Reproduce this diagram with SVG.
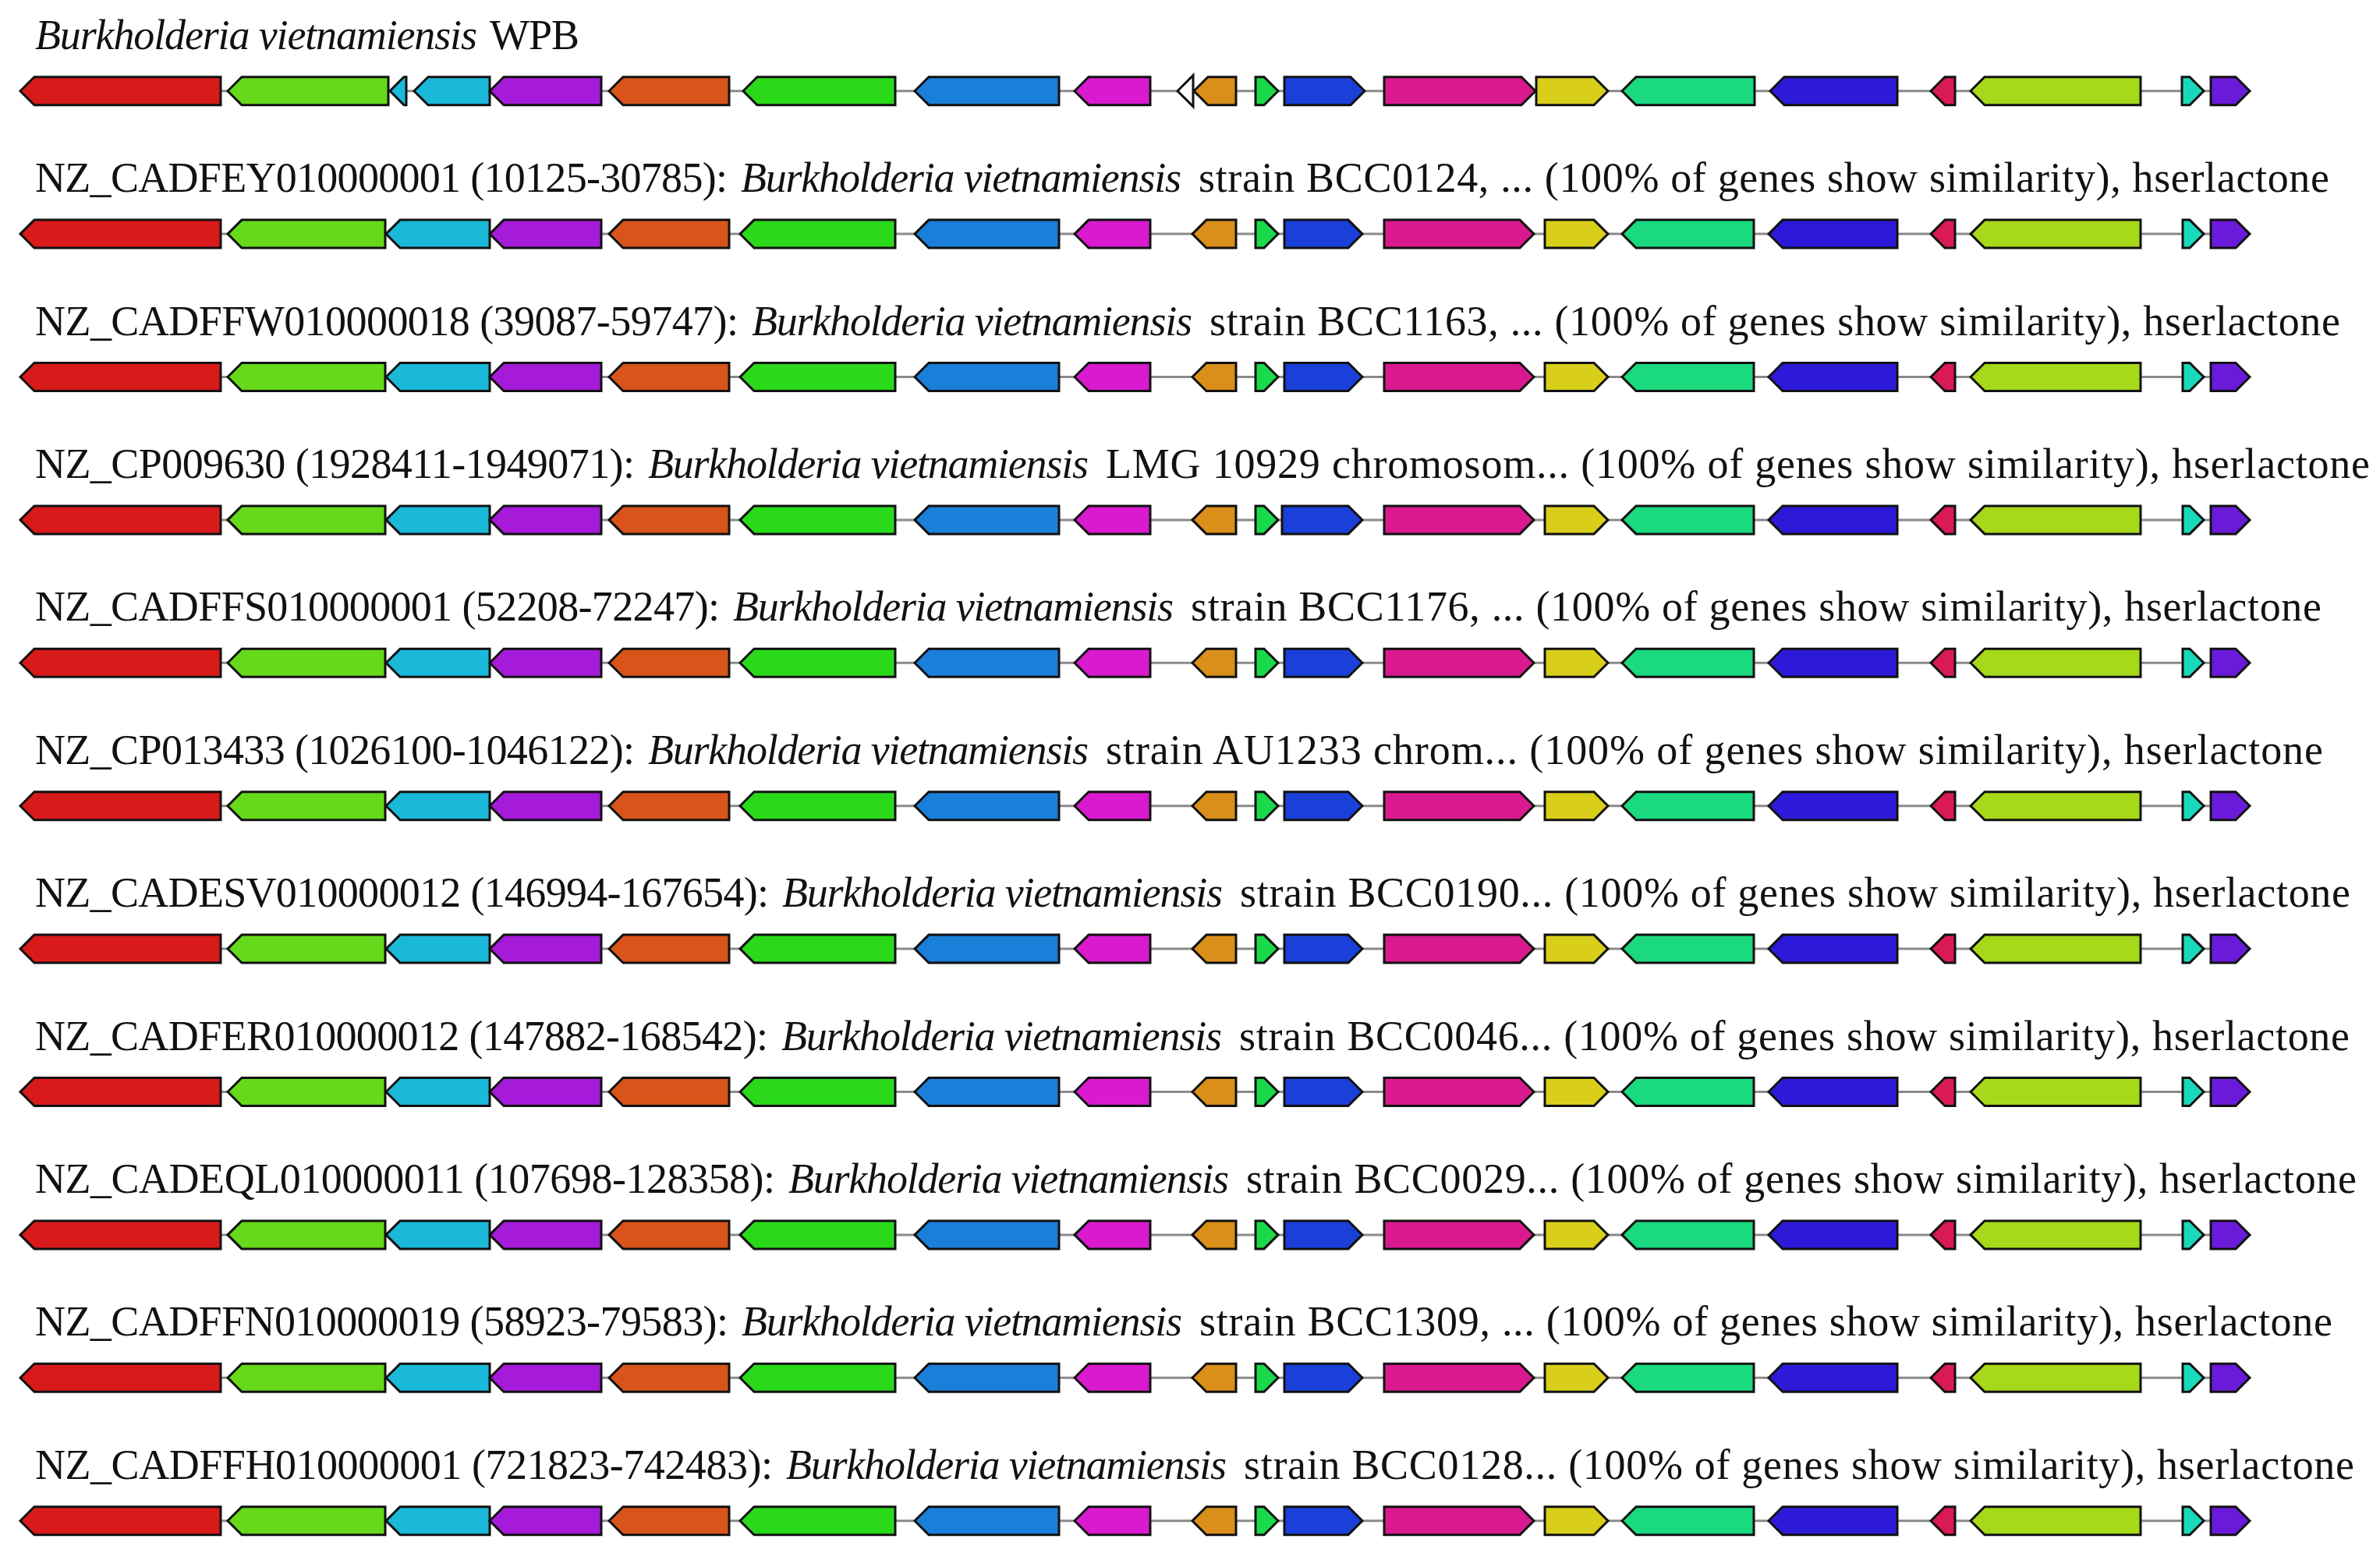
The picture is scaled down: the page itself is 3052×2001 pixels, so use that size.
<svg xmlns="http://www.w3.org/2000/svg" width="3052" height="2001" viewBox="0 0 3052 2001">
<style>
text{font-family:"Liberation Serif","Times New Roman",serif;font-size:54px;fill:#111}
.i{font-style:italic}
polygon{stroke:#111;stroke-width:3;stroke-linejoin:miter}
.bb{stroke:#8a8a8a;stroke-width:3}
.c1{fill:#d91a1a}.c2{fill:#66d91a}.c3{fill:#1ab8d9}.c4{fill:#a61ad9}.c5{fill:#d9541a}
.c6{fill:#2ad91a}.c7{fill:#1a7fd9}.c8{fill:#d91acf}.c9{fill:#ffffff}.c10{fill:#d98f1a}
.c11{fill:#1ad94a}.c12{fill:#1a40d9}.c13{fill:#d91a8f}.c14{fill:#d9cf1a}.c15{fill:#1ad97f}
.c16{fill:#2d1ad9}.c17{fill:#d91a54}.c18{fill:#a6d91a}.c19{fill:#1ad9bb}.c20{fill:#6a1ad9}
</style>
<rect width="3052" height="2001" fill="#fff"/>
<g id="connectors">
<line class="bb" x1="26" y1="116.7" x2="2885" y2="116.7"/>
<line class="bb" x1="26" y1="300.1" x2="2885" y2="300.1"/>
<line class="bb" x1="26" y1="483.5" x2="2885" y2="483.5"/>
<line class="bb" x1="26" y1="666.9" x2="2885" y2="666.9"/>
<line class="bb" x1="26" y1="850.3" x2="2885" y2="850.3"/>
<line class="bb" x1="26" y1="1033.7" x2="2885" y2="1033.7"/>
<line class="bb" x1="26" y1="1217.1" x2="2885" y2="1217.1"/>
<line class="bb" x1="26" y1="1400.5" x2="2885" y2="1400.5"/>
<line class="bb" x1="26" y1="1583.9" x2="2885" y2="1583.9"/>
<line class="bb" x1="26" y1="1767.3" x2="2885" y2="1767.3"/>
<line class="bb" x1="26" y1="1950.7" x2="2885" y2="1950.7"/>
</g>
<g id="row1" transform="translate(0,116.7)">
<text y="-54"><tspan x="45" class="i" textLength="567">Burkholderia vietnamiensis</tspan> <tspan x="628" textLength="115">WPB</tspan></text>
<polygon class="c1" points="26,0 44,-18 283,-18 283,18 44,18"/>
<polygon class="c2" points="292,0 310,-18 498,-18 498,18 310,18"/>
<polygon class="c3" points="500,0 518,-18 521,-18 521,18 518,18"/>
<polygon class="c3" points="531,0 549,-18 628,-18 628,18 549,18"/>
<polygon class="c4" points="628,0 646,-18 771,-18 771,18 646,18"/>
<polygon class="c5" points="781,0 799,-18 935,-18 935,18 799,18"/>
<polygon class="c6" points="953,0 971,-18 1148,-18 1148,18 971,18"/>
<polygon class="c7" points="1173,0 1191,-18 1358,-18 1358,18 1191,18"/>
<polygon class="c8" points="1378,0 1396,-18 1475,-18 1475,18 1396,18"/>
<polygon class="c9" points="1510,0 1530,-20 1530,20"/>
<polygon class="c10" points="1531,0 1549,-18 1585,-18 1585,18 1549,18"/>
<polygon class="c11" points="1610,-18 1621,-18 1639,0 1621,18 1610,18"/>
<polygon class="c12" points="1647,-18 1732,-18 1750,0 1732,18 1647,18"/>
<polygon class="c13" points="1775,-18 1951,-18 1969,0 1951,18 1775,18"/>
<polygon class="c14" points="1970,-18 2044,-18 2062,0 2044,18 1970,18"/>
<polygon class="c15" points="2080,0 2098,-18 2250,-18 2250,18 2098,18"/>
<polygon class="c16" points="2270,0 2288,-18 2433,-18 2433,18 2288,18"/>
<polygon class="c17" points="2476,0 2494,-18 2507,-18 2507,18 2494,18"/>
<polygon class="c18" points="2527,0 2545,-18 2745,-18 2745,18 2545,18"/>
<polygon class="c19" points="2798,-18 2808,-18 2826,0 2808,18 2798,18"/>
<polygon class="c20" points="2835,-18 2867,-18 2885,0 2867,18 2835,18"/>
</g>
<g id="row2" transform="translate(0,300.1)">
<text y="-54"><tspan x="45" textLength="888">NZ_CADFEY010000001 (10125-30785):</tspan> <tspan x="950" class="i" textLength="565">Burkholderia vietnamiensis</tspan> <tspan x="1537" textLength="1450">strain BCC0124, ... (100% of genes show similarity), hserlactone</tspan></text>
<polygon class="c1" points="26,0 44,-18 283,-18 283,18 44,18"/>
<polygon class="c2" points="292,0 310,-18 494,-18 494,18 310,18"/>
<polygon class="c3" points="495,0 513,-18 628,-18 628,18 513,18"/>
<polygon class="c4" points="628,0 646,-18 771,-18 771,18 646,18"/>
<polygon class="c5" points="781,0 799,-18 935,-18 935,18 799,18"/>
<polygon class="c6" points="949,0 967,-18 1148,-18 1148,18 967,18"/>
<polygon class="c7" points="1173,0 1191,-18 1358,-18 1358,18 1191,18"/>
<polygon class="c8" points="1378,0 1396,-18 1475,-18 1475,18 1396,18"/>
<polygon class="c10" points="1529,0 1547,-18 1585,-18 1585,18 1547,18"/>
<polygon class="c11" points="1610,-18 1621,-18 1639,0 1621,18 1610,18"/>
<polygon class="c12" points="1647,-18 1729,-18 1747,0 1729,18 1647,18"/>
<polygon class="c13" points="1775,-18 1949,-18 1967,0 1949,18 1775,18"/>
<polygon class="c14" points="1981,-18 2044,-18 2062,0 2044,18 1981,18"/>
<polygon class="c15" points="2080,0 2098,-18 2249,-18 2249,18 2098,18"/>
<polygon class="c16" points="2268,0 2286,-18 2433,-18 2433,18 2286,18"/>
<polygon class="c17" points="2476,0 2494,-18 2507,-18 2507,18 2494,18"/>
<polygon class="c18" points="2527,0 2545,-18 2745,-18 2745,18 2545,18"/>
<polygon class="c19" points="2799,-18 2808,-18 2826,0 2808,18 2799,18"/>
<polygon class="c20" points="2835,-18 2867,-18 2885,0 2867,18 2835,18"/>
</g>
<g id="row3" transform="translate(0,483.5)">
<text y="-54"><tspan x="45" textLength="902">NZ_CADFFW010000018 (39087-59747):</tspan> <tspan x="964" class="i" textLength="565">Burkholderia vietnamiensis</tspan> <tspan x="1551" textLength="1450">strain BCC1163, ... (100% of genes show similarity), hserlactone</tspan></text>
<polygon class="c1" points="26,0 44,-18 283,-18 283,18 44,18"/>
<polygon class="c2" points="292,0 310,-18 494,-18 494,18 310,18"/>
<polygon class="c3" points="495,0 513,-18 628,-18 628,18 513,18"/>
<polygon class="c4" points="628,0 646,-18 771,-18 771,18 646,18"/>
<polygon class="c5" points="781,0 799,-18 935,-18 935,18 799,18"/>
<polygon class="c6" points="949,0 967,-18 1148,-18 1148,18 967,18"/>
<polygon class="c7" points="1173,0 1191,-18 1358,-18 1358,18 1191,18"/>
<polygon class="c8" points="1378,0 1396,-18 1475,-18 1475,18 1396,18"/>
<polygon class="c10" points="1529,0 1547,-18 1585,-18 1585,18 1547,18"/>
<polygon class="c11" points="1610,-18 1621,-18 1639,0 1621,18 1610,18"/>
<polygon class="c12" points="1647,-18 1729,-18 1747,0 1729,18 1647,18"/>
<polygon class="c13" points="1775,-18 1949,-18 1967,0 1949,18 1775,18"/>
<polygon class="c14" points="1981,-18 2044,-18 2062,0 2044,18 1981,18"/>
<polygon class="c15" points="2080,0 2098,-18 2249,-18 2249,18 2098,18"/>
<polygon class="c16" points="2268,0 2286,-18 2433,-18 2433,18 2286,18"/>
<polygon class="c17" points="2476,0 2494,-18 2507,-18 2507,18 2494,18"/>
<polygon class="c18" points="2527,0 2545,-18 2745,-18 2745,18 2545,18"/>
<polygon class="c19" points="2799,-18 2808,-18 2826,0 2808,18 2799,18"/>
<polygon class="c20" points="2835,-18 2867,-18 2885,0 2867,18 2835,18"/>
</g>
<g id="row4" transform="translate(0,666.9)">
<text y="-54"><tspan x="45" textLength="769">NZ_CP009630 (1928411-1949071):</tspan> <tspan x="831" class="i" textLength="565">Burkholderia vietnamiensis</tspan> <tspan x="1418" textLength="1621">LMG 10929 chromosom... (100% of genes show similarity), hserlactone</tspan></text>
<polygon class="c1" points="26,0 44,-18 283,-18 283,18 44,18"/>
<polygon class="c2" points="292,0 310,-18 494,-18 494,18 310,18"/>
<polygon class="c3" points="495,0 513,-18 628,-18 628,18 513,18"/>
<polygon class="c4" points="628,0 646,-18 771,-18 771,18 646,18"/>
<polygon class="c5" points="781,0 799,-18 935,-18 935,18 799,18"/>
<polygon class="c6" points="949,0 967,-18 1148,-18 1148,18 967,18"/>
<polygon class="c7" points="1173,0 1191,-18 1358,-18 1358,18 1191,18"/>
<polygon class="c8" points="1378,0 1396,-18 1475,-18 1475,18 1396,18"/>
<polygon class="c10" points="1529,0 1547,-18 1585,-18 1585,18 1547,18"/>
<polygon class="c11" points="1610,-18 1621,-18 1639,0 1621,18 1610,18"/>
<polygon class="c12" points="1644,-18 1729,-18 1747,0 1729,18 1644,18"/>
<polygon class="c13" points="1775,-18 1949,-18 1967,0 1949,18 1775,18"/>
<polygon class="c14" points="1981,-18 2044,-18 2062,0 2044,18 1981,18"/>
<polygon class="c15" points="2080,0 2098,-18 2249,-18 2249,18 2098,18"/>
<polygon class="c16" points="2268,0 2286,-18 2433,-18 2433,18 2286,18"/>
<polygon class="c17" points="2476,0 2494,-18 2507,-18 2507,18 2494,18"/>
<polygon class="c18" points="2527,0 2545,-18 2745,-18 2745,18 2545,18"/>
<polygon class="c19" points="2799,-18 2808,-18 2826,0 2808,18 2799,18"/>
<polygon class="c20" points="2835,-18 2867,-18 2885,0 2867,18 2835,18"/>
</g>
<g id="row5" transform="translate(0,850.3)">
<text y="-54"><tspan x="45" textLength="878">NZ_CADFFS010000001 (52208-72247):</tspan> <tspan x="940" class="i" textLength="565">Burkholderia vietnamiensis</tspan> <tspan x="1527" textLength="1450">strain BCC1176, ... (100% of genes show similarity), hserlactone</tspan></text>
<polygon class="c1" points="26,0 44,-18 283,-18 283,18 44,18"/>
<polygon class="c2" points="292,0 310,-18 494,-18 494,18 310,18"/>
<polygon class="c3" points="495,0 513,-18 628,-18 628,18 513,18"/>
<polygon class="c4" points="628,0 646,-18 771,-18 771,18 646,18"/>
<polygon class="c5" points="781,0 799,-18 935,-18 935,18 799,18"/>
<polygon class="c6" points="949,0 967,-18 1148,-18 1148,18 967,18"/>
<polygon class="c7" points="1173,0 1191,-18 1358,-18 1358,18 1191,18"/>
<polygon class="c8" points="1378,0 1396,-18 1475,-18 1475,18 1396,18"/>
<polygon class="c10" points="1529,0 1547,-18 1585,-18 1585,18 1547,18"/>
<polygon class="c11" points="1610,-18 1621,-18 1639,0 1621,18 1610,18"/>
<polygon class="c12" points="1647,-18 1729,-18 1747,0 1729,18 1647,18"/>
<polygon class="c13" points="1775,-18 1949,-18 1967,0 1949,18 1775,18"/>
<polygon class="c14" points="1981,-18 2044,-18 2062,0 2044,18 1981,18"/>
<polygon class="c15" points="2080,0 2098,-18 2249,-18 2249,18 2098,18"/>
<polygon class="c16" points="2268,0 2286,-18 2433,-18 2433,18 2286,18"/>
<polygon class="c17" points="2476,0 2494,-18 2507,-18 2507,18 2494,18"/>
<polygon class="c18" points="2527,0 2545,-18 2745,-18 2745,18 2545,18"/>
<polygon class="c19" points="2799,-18 2808,-18 2826,0 2808,18 2799,18"/>
<polygon class="c20" points="2835,-18 2867,-18 2885,0 2867,18 2835,18"/>
</g>
<g id="row6" transform="translate(0,1033.7)">
<text y="-54"><tspan x="45" textLength="769">NZ_CP013433 (1026100-1046122):</tspan> <tspan x="831" class="i" textLength="565">Burkholderia vietnamiensis</tspan> <tspan x="1418" textLength="1561">strain AU1233 chrom... (100% of genes show similarity), hserlactone</tspan></text>
<polygon class="c1" points="26,0 44,-18 283,-18 283,18 44,18"/>
<polygon class="c2" points="292,0 310,-18 494,-18 494,18 310,18"/>
<polygon class="c3" points="495,0 513,-18 628,-18 628,18 513,18"/>
<polygon class="c4" points="628,0 646,-18 771,-18 771,18 646,18"/>
<polygon class="c5" points="781,0 799,-18 935,-18 935,18 799,18"/>
<polygon class="c6" points="949,0 967,-18 1148,-18 1148,18 967,18"/>
<polygon class="c7" points="1173,0 1191,-18 1358,-18 1358,18 1191,18"/>
<polygon class="c8" points="1378,0 1396,-18 1475,-18 1475,18 1396,18"/>
<polygon class="c10" points="1529,0 1547,-18 1585,-18 1585,18 1547,18"/>
<polygon class="c11" points="1610,-18 1621,-18 1639,0 1621,18 1610,18"/>
<polygon class="c12" points="1647,-18 1729,-18 1747,0 1729,18 1647,18"/>
<polygon class="c13" points="1775,-18 1949,-18 1967,0 1949,18 1775,18"/>
<polygon class="c14" points="1981,-18 2044,-18 2062,0 2044,18 1981,18"/>
<polygon class="c15" points="2080,0 2098,-18 2249,-18 2249,18 2098,18"/>
<polygon class="c16" points="2268,0 2286,-18 2433,-18 2433,18 2286,18"/>
<polygon class="c17" points="2476,0 2494,-18 2507,-18 2507,18 2494,18"/>
<polygon class="c18" points="2527,0 2545,-18 2745,-18 2745,18 2545,18"/>
<polygon class="c19" points="2799,-18 2808,-18 2826,0 2808,18 2799,18"/>
<polygon class="c20" points="2835,-18 2867,-18 2885,0 2867,18 2835,18"/>
</g>
<g id="row7" transform="translate(0,1217.1)">
<text y="-54"><tspan x="45" textLength="941">NZ_CADESV010000012 (146994-167654):</tspan> <tspan x="1003" class="i" textLength="565">Burkholderia vietnamiensis</tspan> <tspan x="1590" textLength="1424">strain BCC0190... (100% of genes show similarity), hserlactone</tspan></text>
<polygon class="c1" points="26,0 44,-18 283,-18 283,18 44,18"/>
<polygon class="c2" points="292,0 310,-18 494,-18 494,18 310,18"/>
<polygon class="c3" points="495,0 513,-18 628,-18 628,18 513,18"/>
<polygon class="c4" points="628,0 646,-18 771,-18 771,18 646,18"/>
<polygon class="c5" points="781,0 799,-18 935,-18 935,18 799,18"/>
<polygon class="c6" points="949,0 967,-18 1148,-18 1148,18 967,18"/>
<polygon class="c7" points="1173,0 1191,-18 1358,-18 1358,18 1191,18"/>
<polygon class="c8" points="1378,0 1396,-18 1475,-18 1475,18 1396,18"/>
<polygon class="c10" points="1529,0 1547,-18 1585,-18 1585,18 1547,18"/>
<polygon class="c11" points="1610,-18 1621,-18 1639,0 1621,18 1610,18"/>
<polygon class="c12" points="1647,-18 1729,-18 1747,0 1729,18 1647,18"/>
<polygon class="c13" points="1775,-18 1949,-18 1967,0 1949,18 1775,18"/>
<polygon class="c14" points="1981,-18 2044,-18 2062,0 2044,18 1981,18"/>
<polygon class="c15" points="2080,0 2098,-18 2249,-18 2249,18 2098,18"/>
<polygon class="c16" points="2268,0 2286,-18 2433,-18 2433,18 2286,18"/>
<polygon class="c17" points="2476,0 2494,-18 2507,-18 2507,18 2494,18"/>
<polygon class="c18" points="2527,0 2545,-18 2745,-18 2745,18 2545,18"/>
<polygon class="c19" points="2799,-18 2808,-18 2826,0 2808,18 2799,18"/>
<polygon class="c20" points="2835,-18 2867,-18 2885,0 2867,18 2835,18"/>
</g>
<g id="row8" transform="translate(0,1400.5)">
<text y="-54"><tspan x="45" textLength="940">NZ_CADFER010000012 (147882-168542):</tspan> <tspan x="1002" class="i" textLength="565">Burkholderia vietnamiensis</tspan> <tspan x="1589" textLength="1424">strain BCC0046... (100% of genes show similarity), hserlactone</tspan></text>
<polygon class="c1" points="26,0 44,-18 283,-18 283,18 44,18"/>
<polygon class="c2" points="292,0 310,-18 494,-18 494,18 310,18"/>
<polygon class="c3" points="495,0 513,-18 628,-18 628,18 513,18"/>
<polygon class="c4" points="628,0 646,-18 771,-18 771,18 646,18"/>
<polygon class="c5" points="781,0 799,-18 935,-18 935,18 799,18"/>
<polygon class="c6" points="949,0 967,-18 1148,-18 1148,18 967,18"/>
<polygon class="c7" points="1173,0 1191,-18 1358,-18 1358,18 1191,18"/>
<polygon class="c8" points="1378,0 1396,-18 1475,-18 1475,18 1396,18"/>
<polygon class="c10" points="1529,0 1547,-18 1585,-18 1585,18 1547,18"/>
<polygon class="c11" points="1610,-18 1621,-18 1639,0 1621,18 1610,18"/>
<polygon class="c12" points="1647,-18 1729,-18 1747,0 1729,18 1647,18"/>
<polygon class="c13" points="1775,-18 1949,-18 1967,0 1949,18 1775,18"/>
<polygon class="c14" points="1981,-18 2044,-18 2062,0 2044,18 1981,18"/>
<polygon class="c15" points="2080,0 2098,-18 2249,-18 2249,18 2098,18"/>
<polygon class="c16" points="2268,0 2286,-18 2433,-18 2433,18 2286,18"/>
<polygon class="c17" points="2476,0 2494,-18 2507,-18 2507,18 2494,18"/>
<polygon class="c18" points="2527,0 2545,-18 2745,-18 2745,18 2545,18"/>
<polygon class="c19" points="2799,-18 2808,-18 2826,0 2808,18 2799,18"/>
<polygon class="c20" points="2835,-18 2867,-18 2885,0 2867,18 2835,18"/>
</g>
<g id="row9" transform="translate(0,1583.9)">
<text y="-54"><tspan x="45" textLength="949">NZ_CADEQL010000011 (107698-128358):</tspan> <tspan x="1011" class="i" textLength="565">Burkholderia vietnamiensis</tspan> <tspan x="1598" textLength="1424">strain BCC0029... (100% of genes show similarity), hserlactone</tspan></text>
<polygon class="c1" points="26,0 44,-18 283,-18 283,18 44,18"/>
<polygon class="c2" points="292,0 310,-18 494,-18 494,18 310,18"/>
<polygon class="c3" points="495,0 513,-18 628,-18 628,18 513,18"/>
<polygon class="c4" points="628,0 646,-18 771,-18 771,18 646,18"/>
<polygon class="c5" points="781,0 799,-18 935,-18 935,18 799,18"/>
<polygon class="c6" points="949,0 967,-18 1148,-18 1148,18 967,18"/>
<polygon class="c7" points="1173,0 1191,-18 1358,-18 1358,18 1191,18"/>
<polygon class="c8" points="1378,0 1396,-18 1475,-18 1475,18 1396,18"/>
<polygon class="c10" points="1529,0 1547,-18 1585,-18 1585,18 1547,18"/>
<polygon class="c11" points="1610,-18 1621,-18 1639,0 1621,18 1610,18"/>
<polygon class="c12" points="1647,-18 1729,-18 1747,0 1729,18 1647,18"/>
<polygon class="c13" points="1775,-18 1949,-18 1967,0 1949,18 1775,18"/>
<polygon class="c14" points="1981,-18 2044,-18 2062,0 2044,18 1981,18"/>
<polygon class="c15" points="2080,0 2098,-18 2249,-18 2249,18 2098,18"/>
<polygon class="c16" points="2268,0 2286,-18 2433,-18 2433,18 2286,18"/>
<polygon class="c17" points="2476,0 2494,-18 2507,-18 2507,18 2494,18"/>
<polygon class="c18" points="2527,0 2545,-18 2745,-18 2745,18 2545,18"/>
<polygon class="c19" points="2799,-18 2808,-18 2826,0 2808,18 2799,18"/>
<polygon class="c20" points="2835,-18 2867,-18 2885,0 2867,18 2835,18"/>
</g>
<g id="row10" transform="translate(0,1767.3)">
<text y="-54"><tspan x="45" textLength="889">NZ_CADFFN010000019 (58923-79583):</tspan> <tspan x="951" class="i" textLength="565">Burkholderia vietnamiensis</tspan> <tspan x="1538" textLength="1453">strain BCC1309, ... (100% of genes show similarity), hserlactone</tspan></text>
<polygon class="c1" points="26,0 44,-18 283,-18 283,18 44,18"/>
<polygon class="c2" points="292,0 310,-18 494,-18 494,18 310,18"/>
<polygon class="c3" points="495,0 513,-18 628,-18 628,18 513,18"/>
<polygon class="c4" points="628,0 646,-18 771,-18 771,18 646,18"/>
<polygon class="c5" points="781,0 799,-18 935,-18 935,18 799,18"/>
<polygon class="c6" points="949,0 967,-18 1148,-18 1148,18 967,18"/>
<polygon class="c7" points="1173,0 1191,-18 1358,-18 1358,18 1191,18"/>
<polygon class="c8" points="1378,0 1396,-18 1475,-18 1475,18 1396,18"/>
<polygon class="c10" points="1529,0 1547,-18 1585,-18 1585,18 1547,18"/>
<polygon class="c11" points="1610,-18 1621,-18 1639,0 1621,18 1610,18"/>
<polygon class="c12" points="1647,-18 1729,-18 1747,0 1729,18 1647,18"/>
<polygon class="c13" points="1775,-18 1949,-18 1967,0 1949,18 1775,18"/>
<polygon class="c14" points="1981,-18 2044,-18 2062,0 2044,18 1981,18"/>
<polygon class="c15" points="2080,0 2098,-18 2249,-18 2249,18 2098,18"/>
<polygon class="c16" points="2268,0 2286,-18 2433,-18 2433,18 2286,18"/>
<polygon class="c17" points="2476,0 2494,-18 2507,-18 2507,18 2494,18"/>
<polygon class="c18" points="2527,0 2545,-18 2745,-18 2745,18 2545,18"/>
<polygon class="c19" points="2799,-18 2808,-18 2826,0 2808,18 2799,18"/>
<polygon class="c20" points="2835,-18 2867,-18 2885,0 2867,18 2835,18"/>
</g>
<g id="row11" transform="translate(0,1950.7)">
<text y="-54"><tspan x="45" textLength="946">NZ_CADFFH010000001 (721823-742483):</tspan> <tspan x="1008" class="i" textLength="565">Burkholderia vietnamiensis</tspan> <tspan x="1595" textLength="1424">strain BCC0128... (100% of genes show similarity), hserlactone</tspan></text>
<polygon class="c1" points="26,0 44,-18 283,-18 283,18 44,18"/>
<polygon class="c2" points="292,0 310,-18 494,-18 494,18 310,18"/>
<polygon class="c3" points="495,0 513,-18 628,-18 628,18 513,18"/>
<polygon class="c4" points="628,0 646,-18 771,-18 771,18 646,18"/>
<polygon class="c5" points="781,0 799,-18 935,-18 935,18 799,18"/>
<polygon class="c6" points="949,0 967,-18 1148,-18 1148,18 967,18"/>
<polygon class="c7" points="1173,0 1191,-18 1358,-18 1358,18 1191,18"/>
<polygon class="c8" points="1378,0 1396,-18 1475,-18 1475,18 1396,18"/>
<polygon class="c10" points="1529,0 1547,-18 1585,-18 1585,18 1547,18"/>
<polygon class="c11" points="1610,-18 1621,-18 1639,0 1621,18 1610,18"/>
<polygon class="c12" points="1647,-18 1729,-18 1747,0 1729,18 1647,18"/>
<polygon class="c13" points="1775,-18 1949,-18 1967,0 1949,18 1775,18"/>
<polygon class="c14" points="1981,-18 2044,-18 2062,0 2044,18 1981,18"/>
<polygon class="c15" points="2080,0 2098,-18 2249,-18 2249,18 2098,18"/>
<polygon class="c16" points="2268,0 2286,-18 2433,-18 2433,18 2286,18"/>
<polygon class="c17" points="2476,0 2494,-18 2507,-18 2507,18 2494,18"/>
<polygon class="c18" points="2527,0 2545,-18 2745,-18 2745,18 2545,18"/>
<polygon class="c19" points="2799,-18 2808,-18 2826,0 2808,18 2799,18"/>
<polygon class="c20" points="2835,-18 2867,-18 2885,0 2867,18 2835,18"/>
</g>
</svg>
